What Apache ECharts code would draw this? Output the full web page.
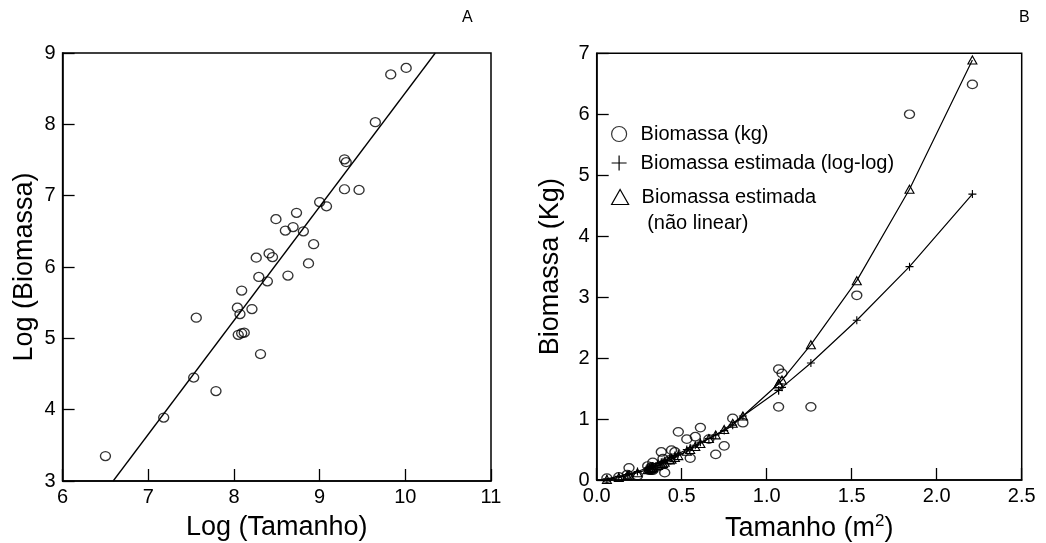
<!DOCTYPE html>
<html><head><meta charset="utf-8">
<script src="https://cdn.jsdelivr.net/npm/echarts@6/dist/echarts.min.js"></script>
<style>html,body{margin:0;padding:0;background:#fff}#c{width:1046px;height:543px}</style>
</head><body><div id="c"></div>
<script>
const FONT = '"Liberation Sans", Arial, sans-serif';

// ---- Panel A (log-log) ----
const logTamanho  = [6.50, 7.18, 7.53, 7.56, 7.79, 8.04, 8.05, 8.07, 8.09, 8.09, 8.12, 8.21, 8.26, 8.29, 8.31, 8.39, 8.41, 8.45, 8.49, 8.60, 8.63, 8.69, 8.73, 8.81, 8.87, 8.93, 9.00, 9.08, 9.29, 9.29, 9.31, 9.46, 9.65, 9.83, 10.01];
const logBiomassa = [3.35, 3.89, 4.45, 5.29, 4.26, 5.43, 5.05, 5.34, 5.07, 5.67, 5.08, 5.41, 6.13, 5.86, 4.78, 5.80, 6.19, 6.14, 6.67, 6.51, 5.88, 6.56, 6.76, 6.50, 6.05, 6.32, 6.91, 6.85, 7.09, 7.51, 7.47, 7.08, 8.03, 8.70, 8.79];
const regLineX = [6.59, 10.35];
const regLineY = [3.0, 9.0];

// ---- Panel B ----
const tamanho      = [0.06, 0.13, 0.18, 0.19, 0.24, 0.30, 0.31, 0.32, 0.32, 0.33, 0.33, 0.36, 0.38, 0.39, 0.40, 0.43, 0.44, 0.46, 0.48, 0.53, 0.55, 0.58, 0.61, 0.66, 0.70, 0.75, 0.80, 0.86, 1.07, 1.07, 1.09, 1.26, 1.53, 1.84, 2.21];
const biomassa     = [0.03, 0.05, 0.09, 0.20, 0.07, 0.23, 0.16, 0.21, 0.16, 0.29, 0.16, 0.22, 0.46, 0.35, 0.12, 0.33, 0.49, 0.46, 0.79, 0.67, 0.36, 0.71, 0.86, 0.67, 0.42, 0.56, 1.01, 0.94, 1.20, 1.82, 1.75, 1.20, 3.03, 6.00, 6.49];
const estLogLog    = [0.02, 0.06, 0.09, 0.10, 0.14, 0.20, 0.21, 0.22, 0.22, 0.23, 0.23, 0.27, 0.29, 0.30, 0.32, 0.36, 0.37, 0.40, 0.43, 0.50, 0.53, 0.57, 0.62, 0.68, 0.74, 0.81, 0.90, 1.05, 1.47, 1.47, 1.52, 1.92, 2.62, 3.50, 4.69];
const estNaoLinear = [0.01, 0.04, 0.07, 0.08, 0.12, 0.17, 0.18, 0.19, 0.19, 0.20, 0.20, 0.24, 0.26, 0.27, 0.29, 0.33, 0.34, 0.37, 0.40, 0.47, 0.50, 0.55, 0.60, 0.68, 0.74, 0.83, 0.93, 1.05, 1.58, 1.58, 1.64, 2.22, 3.27, 4.77, 6.89];

const nameObs = 'Biomassa (kg)';
const nameLL = 'Biomassa estimada (log-log)';
const nameNL = 'Biomassa estimada (não linear)';
const plusPath = 'path://M0,5L10,5M5,0L5,10';

const zip = (a, b) => a.map((v, i) => [v, b[i]]);

const axisCommon = {
  type: 'value',
  axisLine: { show: true, onZero: false, lineStyle: { color: '#000', width: 1.5 } },
  axisTick: { show: true, inside: true, length: 12, lineStyle: { color: '#000', width: 1.3 } },
  axisLabel: { color: '#000', fontSize: 20, fontFamily: FONT },
  splitLine: { show: false },
  nameLocation: 'middle',
  nameTextStyle: { color: '#000', fontSize: 27, fontFamily: FONT }
};

const hollow = { color: 'rgba(0,0,0,0)', borderColor: '#000', borderWidth: 1.3 };
const legendText = { fontSize: 20, fontFamily: FONT, color: '#000' };

const option = {
  animation: false,
  backgroundColor: '#fff',
  grid: [
    { left: 62.6, top: 53, width: 428.4, height: 428, show: true, borderColor: '#000', borderWidth: 1.5, backgroundColor: 'transparent', outerBoundsMode: 'none' },
    { left: 596.7, top: 53.3, width: 425, height: 426.7, show: true, borderColor: '#000', borderWidth: 1.5, backgroundColor: 'transparent', outerBoundsMode: 'none' }
  ],
  xAxis: [
    Object.assign({}, axisCommon, { gridIndex: 0, min: 6, max: 11, interval: 1, name: 'Log (Tamanho)', nameGap: 33,
      axisLabel: Object.assign({}, axisCommon.axisLabel, { margin: 6 }) }),
    Object.assign({}, axisCommon, { gridIndex: 1, min: 0, max: 2.5, interval: 0.5, name: 'Tamanho (m{sup|2})', nameGap: 33,
      nameTextStyle: Object.assign({}, axisCommon.nameTextStyle, {
        rich: { sup: { fontSize: 17, fontFamily: FONT, color: '#000', padding: [0, 0, 14, 0] } } }),
      axisLabel: Object.assign({}, axisCommon.axisLabel, { margin: 6, formatter: v => v.toFixed(1) }) })
  ],
  yAxis: [
    Object.assign({}, axisCommon, { gridIndex: 0, min: 3, max: 9, interval: 1, name: 'Log (Biomassa)', nameGap: 25,
      axisLabel: Object.assign({}, axisCommon.axisLabel, { margin: 7 }) }),
    Object.assign({}, axisCommon, { gridIndex: 1, min: 0, max: 7, interval: 1, name: 'Biomassa (Kg)', nameGap: 33,
      axisLabel: Object.assign({}, axisCommon.axisLabel, { margin: 7 }) })
  ],
  legend: [
    {
      left: 611, top: 124, orient: 'vertical', padding: 0, itemGap: 9, itemWidth: 17, itemHeight: 15,
      selectedMode: false,
      textStyle: Object.assign({}, legendText, { lineHeight: 20, padding: [0, 0, 0, 8] }),
      itemStyle: { color: 'rgba(0,0,0,0)', borderColor: '#000', borderWidth: 1.2 },
      data: [ { name: nameObs, icon: 'circle' }, { name: nameLL, icon: plusPath } ]
    },
    {
      left: 611, top: 158, orient: 'vertical', padding: 0, itemWidth: 17, itemHeight: 15,
      selectedMode: false,
      formatter: () => '\nBiomassa estimada\n (não linear)',
      textStyle: Object.assign({}, legendText, { lineHeight: 26, padding: [0, 0, 0, 8] }),
      itemStyle: { color: 'rgba(0,0,0,0)', borderColor: '#000', borderWidth: 1.2 },
      data: [ { name: nameNL, icon: 'triangle' } ]
    }
  ],
  graphic: [
    { type: 'text', left: 462, top: 10, style: { text: 'A', fontSize: 16, fontFamily: FONT, fill: '#000' } },
    { type: 'text', left: 1019, top: 10, style: { text: 'B', fontSize: 16, fontFamily: FONT, fill: '#000' } }
  ],
  series: [
    { type: 'scatter', name: 'log', xAxisIndex: 0, yAxisIndex: 0, data: zip(logTamanho, logBiomassa),
      symbol: 'circle', symbolSize: [10, 9], itemStyle: hollow },
    { type: 'line', name: 'reg', xAxisIndex: 0, yAxisIndex: 0, data: zip(regLineX, regLineY),
      showSymbol: false, symbol: 'none', lineStyle: { color: '#000', width: 1.3 }, clip: true },
    { type: 'line', name: nameLL, xAxisIndex: 1, yAxisIndex: 1, data: zip(tamanho, estLogLog),
      symbol: plusPath, symbolSize: 8, showSymbol: true, showAllSymbol: true,
      itemStyle: { color: 'rgba(0,0,0,0)', borderColor: '#000', borderWidth: 1.1 },
      lineStyle: { color: '#000', width: 1.2 }, z: 3 },
    { type: 'line', name: nameNL, xAxisIndex: 1, yAxisIndex: 1, data: zip(tamanho, estNaoLinear),
      symbol: 'triangle', symbolSize: [9, 8], showSymbol: true, showAllSymbol: true,
      itemStyle: { color: 'rgba(0,0,0,0)', borderColor: '#000', borderWidth: 1.1 },
      lineStyle: { color: '#000', width: 1.2 }, z: 3 },
    { type: 'scatter', name: nameObs, xAxisIndex: 1, yAxisIndex: 1, data: zip(tamanho, biomassa),
      symbol: 'circle', symbolSize: [10, 8.5], itemStyle: hollow, z: 4 }
  ]
};

const chart = echarts.init(document.getElementById('c'), null, { renderer: 'canvas' });
chart.setOption(option);
</script>
</body></html>
